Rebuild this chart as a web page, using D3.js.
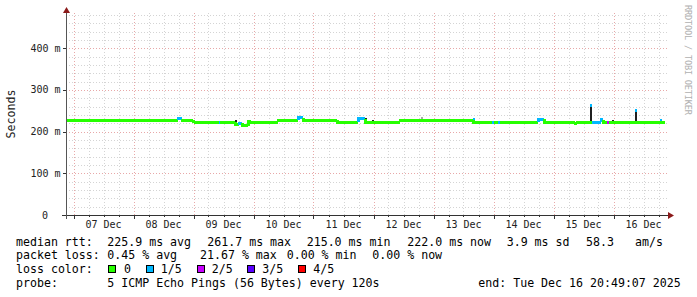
<!DOCTYPE html>
<html>
<head>
<meta charset="utf-8">
<script src="https://cdn.jsdelivr.net/npm/d3@7"></script>
<style>
  body { margin: 0; background: #fff; }
  svg { display: block; font-family: "DejaVu Sans Mono", monospace; }
</style>
</head>
<body>
<div id="chart"></div>
<script>
// median rtt, one step per entry (value holds until the next time)
const medTime = ["2025-12-06T21:00","2025-12-08T17:48","2025-12-08T19:24","2025-12-08T23:48","2025-12-09T00:36",
  "2025-12-09T10:12","2025-12-09T10:36","2025-12-09T16:36","2025-12-09T18:12","2025-12-09T19:24","2025-12-09T21:48",
  "2025-12-09T23:00","2025-12-10T09:48","2025-12-10T17:48","2025-12-10T19:48","2025-12-10T22:36","2025-12-11T09:24",
  "2025-12-11T17:48","2025-12-11T20:36","2025-12-12T10:36","2025-12-13T15:48","2025-12-13T23:24","2025-12-14T00:12",
  "2025-12-14T01:48","2025-12-14T02:36","2025-12-14T17:48","2025-12-14T20:12","2025-12-15T08:36","2025-12-15T09:24",
  "2025-12-15T15:24","2025-12-15T19:00","2025-12-15T19:48","2025-12-15T21:24","2025-12-15T22:12","2025-12-16T00:12",
  "2025-12-16T20:36"];
const medValue = [227.5,231,227.5,225,222, 222,222,217,220,214,225, 222,227.5,233,226,227.5,222,
  231,222,227.5,222,222,222, 222,222,229.5,222,219.5,222, 222,228,222,222,222,221.5, 221.5];
// lost pings out of 5
const medLoss = [0,1,0,0,0, 1,0,0,1,0,0, 0,0,1,0,0,0, 1,0,0,0,1,0, 1,0,1,0,0,0, 1,1,0,2,0,0, 0];

// smoke (spread of the pings)
const smokeTime = ["2025-12-08T23:48","2025-12-09T16:36","2025-12-10T09:48","2025-12-11T17:48","2025-12-11T20:36",
  "2025-12-11T23:24","2025-12-12T10:36","2025-12-12T19:00","2025-12-13T15:48","2025-12-15T14:36","2025-12-15T23:24",
  "2025-12-16T08:36","2025-12-16T18:36"];
const smokeLow = [222,213,222,222,222, 221,222,228,221,222,222, 221,221];
const smokeHigh = [228,228,228,232,232, 229,228,235,230,263,227, 252,229];
const smokeCap = [-1,-1,-1,-1,-1, -1,-1,-1,1,1,-1, 1,1];

const lossLabels = ["0", "1/5", "2/5", "3/5", "4/5"];
const lossColors = ["#26ff00", "#00b8ff", "#c800ff", "#5a00ff", "#ff0000"];
const yTicks = [0, 100, 200, 300, 400];
const dayLabels = ["07 Dec","08 Dec","09 Dec","10 Dec","11 Dec","12 Dec","13 Dec","14 Dec","15 Dec","16 Dec"];

const width = 697, height = 297;
const svg = d3.select("#chart").append("svg").attr("width", width).attr("height", height);

const parse = d3.utcParse("%Y-%m-%dT%H:%M");
const t0 = parse("2025-12-06T21:00"), t1 = parse("2025-12-16T21:00");
const x = d3.scaleUtc().domain([t0, t1]).range([66, 666]);
const y = d3.scaleLinear().domain([0, 482]).range([215, 14]);

// grid
const grid = svg.append("g").attr("shape-rendering", "crispEdges");
const hours6 = d3.utcHour.every(6).range(t0, t1);
hours6.forEach(h => {
  const major = h.getUTCHours() === 0;
  grid.append("line").attr("x1", Math.round(x(h)) + 0.5).attr("x2", Math.round(x(h)) + 0.5)
    .attr("y1", 215).attr("y2", 13)
    .attr("stroke", major ? "#e8a8a8" : "#d4d4d4").attr("stroke-dasharray", "1,2");
});
d3.range(20, 482, 20).forEach(v => {
  const major = v % 100 === 0;
  grid.append("line").attr("x1", 66).attr("x2", 668)
    .attr("y1", Math.round(y(v)) + 0.5).attr("y2", Math.round(y(v)) + 0.5)
    .attr("stroke", major ? "#e8a8a8" : "#d4d4d4").attr("stroke-dasharray", "1,2");
});

// smoke
const plot = svg.append("g").attr("shape-rendering", "crispEdges");
smokeTime.forEach((t, i) => {
  const xs = Math.round(x(parse(t)));
  plot.append("rect").attr("x", xs).attr("width", 2)
    .attr("y", y(smokeHigh[i])).attr("height", y(smokeLow[i]) - y(smokeHigh[i]))
    .attr("fill", i === 7 ? "#a8a8a8" : "#202020");
  if (smokeCap[i] >= 0)
    plot.append("rect").attr("x", xs).attr("width", 2)
      .attr("y", y(smokeHigh[i]) - 1).attr("height", 3).attr("fill", lossColors[smokeCap[i]]);
});

// median line coloured by loss
for (let i = 0; i < medTime.length - 1; i++) {
  const xa = x(parse(medTime[i])), xb = x(parse(medTime[i + 1]));
  const yv = y(medValue[i]);
  const yp = i > 0 ? y(medValue[i - 1]) : yv;
  plot.append("path")
    .attr("d", `M${xa},${yp}V${yv}H${xb}`)
    .attr("fill", "none").attr("stroke", lossColors[medLoss[i]])
    .attr("stroke-width", 3).attr("stroke-linejoin", "miter");
}

// axes
const ax = svg.append("g").attr("shape-rendering", "crispEdges");
ax.append("line").attr("x1", 62).attr("x2", 668).attr("y1", 215.5).attr("y2", 215.5).attr("stroke", "#333");
ax.append("line").attr("x1", 66.5).attr("x2", 66.5).attr("y1", 219).attr("y2", 12).attr("stroke", "#555");
yTicks.forEach(v => {
  ax.append("line").attr("x1", 63).attr("x2", 66).attr("y1", Math.round(y(v)) + 0.5).attr("y2", Math.round(y(v)) + 0.5).attr("stroke", "#333");
});
hours6.forEach(h => {
  const major = h.getUTCHours() === 0;
  ax.append("line").attr("x1", Math.round(x(h)) + 0.5).attr("x2", Math.round(x(h)) + 0.5)
    .attr("y1", 215).attr("y2", major ? 219 : 217).attr("stroke", "#333");
});
svg.append("path").attr("d", "M63,13L66.5,7L70,13Z").attr("fill", "#8b1a1a");
svg.append("path").attr("d", "M668,212L674,215.5L668,219Z").attr("fill", "#8b1a1a");

// tick labels
yTicks.forEach(v => {
  svg.append("text").attr("x", v === 0 ? 48 : 60.5).attr("y", y(v)).attr("dy", "0.35em")
    .attr("text-anchor", "end").attr("font-size", 10).attr("fill", "#222")
    .text(v === 0 ? "0" : v + " m");
});
dayLabels.forEach((d, i) => {
  const noon = d3.utcHour.offset(d3.utcDay.offset(parse("2025-12-07T00:00"), i), 12);
  svg.append("text").attr("x", x(noon)).attr("y", 228).attr("text-anchor", "middle")
    .attr("font-size", 10).attr("fill", "#222").text(d);
});
svg.append("text").attr("transform", "translate(15,114) rotate(-90)").attr("text-anchor", "middle")
  .attr("font-size", 11.6).attr("fill", "#222").text("Seconds");
svg.append("text").attr("transform", "translate(685,5) rotate(90)")
  .attr("font-size", 8.6).attr("fill", "#b0b0b0").attr("textLength", 110).attr("lengthAdjust", "spacing")
  .text("RRDTOOL / TOBI OETIKER");

// legend
const leg = svg.append("g").attr("font-size", 11.6).attr("fill", "#000");
function put(xp, yp, s) {
  leg.append("text").attr("x", xp).attr("y", yp).attr("xml:space", "preserve").text(s);
}
put(16, 245.5, "median rtt:");
put(107.3, 245.5, "225.9 ms avg");
put(207.3, 245.5, "261.7 ms max");
put(306.7, 245.5, "215.0 ms min");
put(407.3, 245.5, "222.0 ms now");
put(506.7, 245.5, "3.9 ms sd");
put(586, 245.5, "58.3");
put(635, 245.5, "am/s");
put(16, 259.3, "packet loss:");
put(107.3, 259.3, "0.45 % avg");
put(200, 259.3, "21.67 % max");
put(286.7, 259.3, "0.00 % min");
put(372.3, 259.3, "0.00 % now");
put(16, 273.1, "loss color:");
const boxX = [108.5, 146, 197, 247.5, 298.5];
const lblX = [124, 160.7, 211.7, 262.3, 313.3];
lossLabels.forEach((l, i) => {
  leg.append("rect").attr("x", boxX[i]).attr("y", 265.5).attr("width", 7).attr("height", 7)
    .attr("fill", lossColors[i]).attr("stroke", "#000").attr("stroke-width", 1)
    .attr("shape-rendering", "crispEdges");
  put(lblX[i], 273.1, l);
});
put(16, 286.9, "probe:");
put(107.3, 286.9, "5 ICMP Echo Pings (56 Bytes) every 120s");
put(478.3, 286.9, "end: Tue Dec 16 20:49:07 2025");
</script>
</body>
</html>
